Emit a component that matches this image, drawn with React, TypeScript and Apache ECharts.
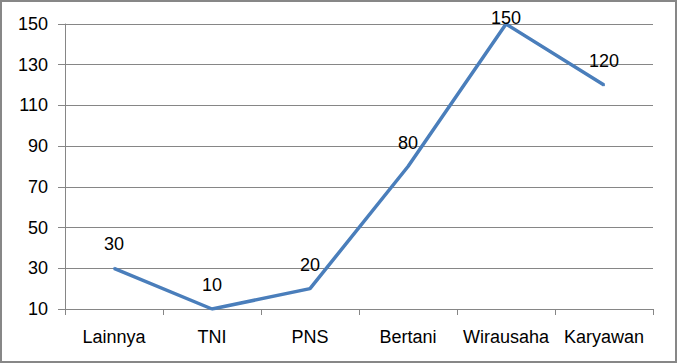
import React, { useEffect, useRef } from "react";
import * as echarts from "echarts";

const categories: string[] = ["Lainnya", "TNI", "PNS", "Bertani", "Wirausaha", "Karyawan"];
const values: number[] = [30, 10, 20, 80, 150, 120];
const yMin = 10;
const yMax = 150;
const yStep = 20;

const FONT = "'Liberation Sans', Arial, sans-serif";

export default function App() {
  const ref = useRef<HTMLDivElement>(null);
  useEffect(() => {
    if (!ref.current) return;
    const chart = echarts.init(ref.current, null, { renderer: "svg" });
    const data = values.map((v) =>
      v === yMax
        ? { value: v, label: { offset: [0, 18] } }
        : { value: v }
    );
    chart.setOption({
      animation: false,
      backgroundColor: "#ffffff",
      textStyle: { fontFamily: FONT },
      grid: { left: 63, right: 22, top: 22, bottom: 52 },
      xAxis: {
        type: "category",
        data: categories,
        boundaryGap: true,
        axisLine: { show: true, lineStyle: { color: "#868686", width: 1 } },
        axisTick: { show: true, length: 6, alignWithLabel: false, lineStyle: { color: "#868686" } },
        axisLabel: { color: "#000", fontSize: 18, fontFamily: FONT, margin: 19, interval: 0 },
        splitLine: { show: false },
      },
      yAxis: {
        type: "value",
        min: yMin,
        max: yMax,
        interval: yStep,
        axisLine: { show: true, lineStyle: { color: "#868686", width: 1 } },
        axisTick: { show: true, length: 7, lineStyle: { color: "#868686" } },
        axisLabel: { color: "#000", fontSize: 18, fontFamily: FONT, margin: 17 },
        splitLine: { show: true, lineStyle: { color: "#868686", width: 1 } },
      },
      series: [
        {
          type: "line",
          data,
          symbol: "circle",
          symbolSize: 2,
          showSymbol: true,
          lineStyle: { color: "#4a7ebb", width: 3.5 },
          itemStyle: { color: "#4a7ebb" },
          label: {
            show: true,
            position: "top",
            distance: 14,
            color: "#000",
            fontSize: 18,
            fontFamily: FONT,
          },
        },
      ],
    });
    return () => chart.dispose();
  }, []);
  return (
    <div
      style={{
        position: "fixed",
        left: 0,
        top: 0,
        width: 677,
        height: 363,
        boxSizing: "border-box",
        border: "2px solid #878787",
        background: "#fff",
      }}
    >
      <div ref={ref} style={{ width: 673, height: 359 }} />
    </div>
  );
}
